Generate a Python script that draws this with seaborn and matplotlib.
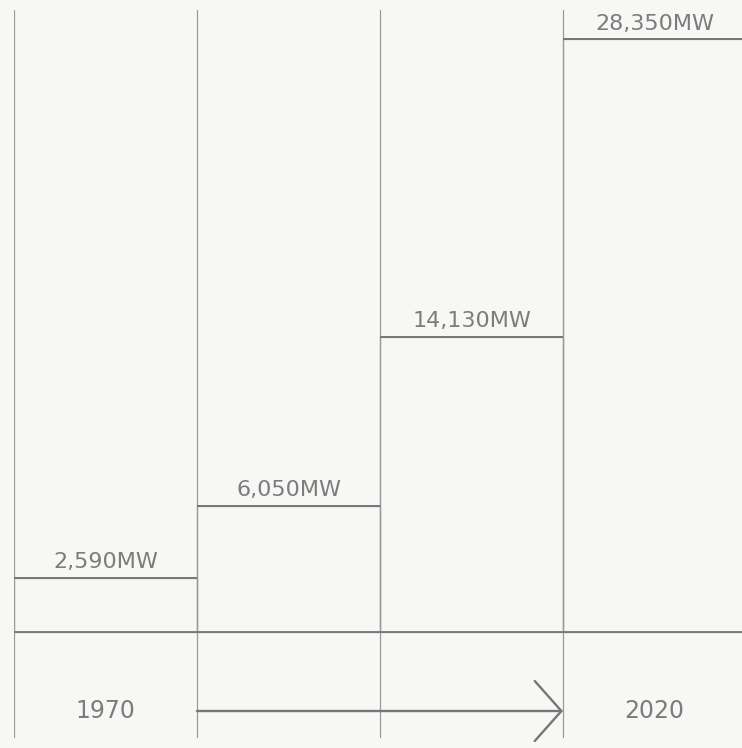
import matplotlib
matplotlib.use("Agg")
import matplotlib.pyplot as plt
import seaborn as sns
import pandas as pd

# Installed capacity at each stage
stages = ["1970", "s2", "s3", "2020"]
capacity_mw = [2590, 6050, 14130, 28350]
value_labels = ["2,590MW", "6,050MW", "14,130MW", "28,350MW"]
start_year = "1970"
end_year = "2020"

df = pd.DataFrame({"stage": stages, "mw": capacity_mw})

sns.set_theme(style="white")
plt.rcParams["font.family"] = ["DejaVu Sans"]

bg = "#f7f7f5"
line_c = "#9a9a9a"
edge_c = "#767676"
text_c = "#7c7c7c"

W, H = 742, 748
fig = plt.figure(figsize=(W / 100, H / 100), dpi=100, facecolor=bg)
# axes spans from the top of the dividers to the bottom of the year row
ax = fig.add_axes([14 / W, 10 / H, 732 / W, 728 / H])
ax.set_facecolor(bg)

sns.barplot(data=df, x="stage", y="mw", ax=ax, width=1.0, fill=False,
            edgecolor=line_c, linewidth=0.9, errorbar=None)

# stronger stroke along the top of each step
for patch in ax.patches:
    x0 = patch.get_x()
    top = patch.get_height()
    ax.plot([x0, x0 + patch.get_width()], [top, top], color=edge_c,
            lw=1.4, solid_capstyle="butt", zorder=3)

px_per_mw = 0.0209
ax.set_xlim(-0.5, 3.5)
ax.set_ylim(-(738 - 632) / px_per_mw, (632 - 10) / px_per_mw)
for s in ax.spines.values():
    s.set_visible(False)
ax.set_xticks([])
ax.set_yticks([])
ax.set_xlabel("")
ax.set_ylabel("")

# vertical dividers between stages
for xv in [-0.5, 0.5, 1.5, 2.5]:
    ax.axvline(xv, color=line_c, lw=0.9, zorder=0)

# baseline
ax.axhline(0, color=edge_c, lw=1.3, zorder=1)

# value labels above each step
for i, (v, lab) in enumerate(zip(capacity_mw, value_labels)):
    ax.annotate(lab, xy=(i, v), xytext=(0, 4), textcoords="offset points",
                ha="center", va="bottom", fontsize=16, color=text_c)

# timeline row
y_row = -(711 - 632) / px_per_mw
ax.text(0, y_row, start_year, ha="center", va="center", fontsize=17,
        color=text_c)
ax.text(3, y_row, end_year, ha="center", va="center", fontsize=17,
        color=text_c)
ax.annotate("", xy=(2.5, y_row), xytext=(0.5, y_row),
            arrowprops=dict(arrowstyle="->,head_length=1.6,head_width=1.8",
                            color=edge_c, lw=1.7, shrinkA=0, shrinkB=0))

fig.savefig("out.png", dpi=100, facecolor=bg)
